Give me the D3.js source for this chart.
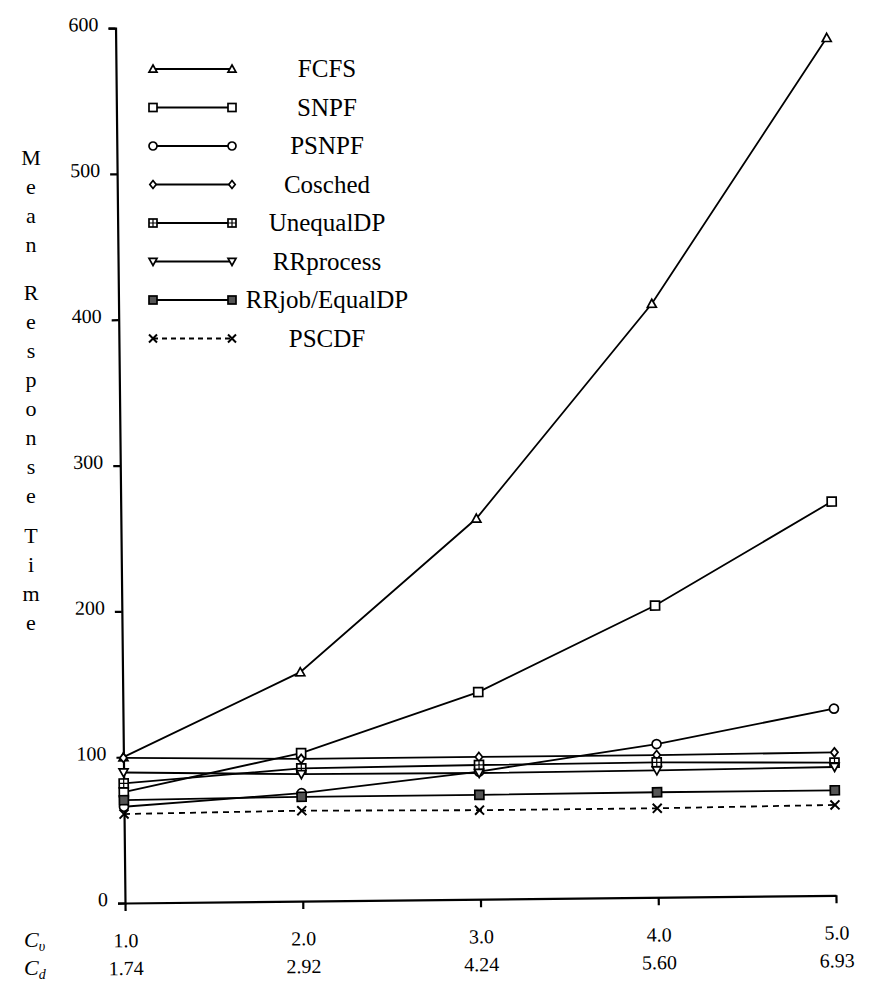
<!DOCTYPE html>
<html><head><meta charset="utf-8">
<script src="https://cdn.jsdelivr.net/npm/d3@7"></script>
<style>
body{margin:0;background:#fff}
svg{display:block}
text{font-family:"Liberation Serif","Times New Roman",serif;fill:#000}
</style>
</head><body>
<script>
// ---- data ----
const cvValues = [1.0, 2.0, 3.0, 4.0, 5.0];
const cdLabels = ["1.74", "2.92", "4.24", "5.60", "6.93"];
const yTicks = [0, 100, 200, 300, 400, 500, 600];
const seriesNames = ["FCFS", "SNPF", "PSNPF", "Cosched", "UnequalDP", "RRprocess", "RRjob/EqualDP", "PSCDF"];
const fcfs      = [100, 157, 261, 407, 588];
const snpf      = [76, 101.5, 142, 200, 270];
const psnpf     = [66, 74, 87.5, 105, 128];
const cosched   = [99.5, 97.5, 97.5, 97.5, 98];
const unequalDP = [82, 91, 92, 92.5, 91];
const rrprocess = [89.5, 87, 86.5, 87, 88];
const rrjob     = [70.5, 71.5, 71.5, 72, 72];
const pscdf     = [61, 62, 61, 61, 62];
const seriesMarkers = ["triUp", "square", "circle", "diamond", "squarePlus", "triDown", "filledSquare", "cross"];
const seriesValues = [fcfs, snpf, psnpf, cosched, unequalDP, rrprocess, rrjob, pscdf];
const yTitleWords = ["Mean", "Response", "Time"];

// ---- setup ----
const W = 869, H = 981;
const FONT = '"Liberation Serif","Times New Roman",serif';
const svg = d3.select("body").append("svg").attr("width", W).attr("height", H)
  .attr("font-family", FONT);

const x = d3.scaleLinear().domain([1, 5]).range([0, 711]);
const y = d3.scaleLinear().domain([0, 600]).range([0, -875]);

function drawMarker(g, type, cx, cy, s) {
  const h = s / 2;
  const m = g.append("g").attr("transform", `translate(${cx},${cy})`)
    .attr("fill", "#fff").attr("stroke", "#000").attr("stroke-width", 1.7);
  switch (type) {
    case "triUp":
      m.append("path").attr("d", `M0,${-h} L${h},${h * 0.8} L${-h},${h * 0.8} Z`); break;
    case "triDown":
      m.append("path").attr("d", `M0,${h} L${h},${-h * 0.8} L${-h},${-h * 0.8} Z`); break;
    case "square":
      m.append("rect").attr("x", -h).attr("y", -h).attr("width", s).attr("height", s); break;
    case "circle":
      m.append("circle").attr("r", h); break;
    case "diamond":
      m.append("path").attr("d", `M0,${-h} L${h * 0.8},0 L0,${h} L${-h * 0.8},0 Z`); break;
    case "squarePlus":
      m.append("rect").attr("x", -h).attr("y", -h).attr("width", s).attr("height", s);
      m.append("path").attr("d", `M${-h},0 H${h} M0,${-h} V${h}`).attr("stroke-width", 1.2); break;
    case "filledSquare":
      m.append("rect").attr("x", -h).attr("y", -h).attr("width", s).attr("height", s).attr("fill", "#555"); break;
    case "cross":
      m.append("path").attr("d", `M${-h},${-h} L${h},${h} M${-h},${h} L${h},${-h}`).attr("stroke-width", 2); break;
  }
}

// ---- plot group (slightly rotated like the scanned original) ----
const plot = svg.append("g").attr("transform", "translate(125,903) rotate(-0.62)");

// y axis
const yAxis = plot.append("g")
  .call(d3.axisLeft(y).tickValues(yTicks).tickSize(7).tickSizeOuter(7).tickPadding(10).tickFormat(d3.format("d")))
  .attr("font-family", FONT).attr("font-size", 20);
yAxis.selectAll("path,line").attr("stroke", "#000").attr("stroke-width", 2.2);
yAxis.selectAll("text").attr("dy", "0.12em");

// x axis
const xAxis = plot.append("g")
  .call(d3.axisBottom(x).tickValues(cvValues).tickSize(8).tickSizeOuter(0).tickPadding(22).tickFormat(d3.format(".1f")))
  .attr("font-family", FONT).attr("font-size", 20);
xAxis.selectAll("path,line").attr("stroke", "#000").attr("stroke-width", 2.2);
xAxis.selectAll(".tick").append("text")
  .attr("y", 72).attr("fill", "#000")
  .text((d, i) => cdLabels[i]);

// lines
const line = d3.line().x((d, i) => x(cvValues[i])).y(d => y(d));
seriesValues.forEach((vals, si) => {
  plot.append("path").datum(vals)
    .attr("d", line).attr("fill", "none").attr("stroke", "#000")
    .attr("stroke-width", 1.8)
    .attr("stroke-dasharray", seriesMarkers[si] === "cross" ? "6,5" : null);
});
seriesValues.forEach((vals, si) => {
  vals.forEach((v, i) => drawMarker(plot, seriesMarkers[si], x(cvValues[i]), y(v), 9));
});

// ---- legend ----
const legend = svg.append("g");
const legTop = 69, legStep = 38.5;
seriesNames.forEach((name, i) => {
  const yy = legTop + i * legStep;
  legend.append("line").attr("x1", 153).attr("x2", 232).attr("y1", yy).attr("y2", yy)
    .attr("stroke", "#000").attr("stroke-width", 1.8)
    .attr("stroke-dasharray", seriesMarkers[i] === "cross" ? "5,4" : null);
  drawMarker(legend, seriesMarkers[i], 153, yy, 8);
  drawMarker(legend, seriesMarkers[i], 232, yy, 8);
  legend.append("text").attr("x", 327).attr("y", yy + 8)
    .attr("text-anchor", "middle").attr("font-size", 25).text(name);
});

// ---- y-axis title (vertical letters) ----
const wordStarts = [158, 293, 536];
const step = 29;
yTitleWords.forEach((w, wi) => {
  w.split("").forEach((ch, ci) => {
    svg.append("text").attr("x", 31).attr("y", wordStarts[wi] + ci * step + 7)
      .attr("text-anchor", "middle").attr("font-size", 22).text(ch);
  });
});

// ---- Cv / Cd labels ----
const cvLab = svg.append("text").attr("x", 24).attr("y", 947).attr("font-size", 22).attr("font-style", "italic");
cvLab.append("tspan").text("C");
cvLab.append("tspan").attr("font-size", 14).attr("dy", 4).text("υ");
const cdLab = svg.append("text").attr("x", 24).attr("y", 975).attr("font-size", 22).attr("font-style", "italic");
cdLab.append("tspan").text("C");
cdLab.append("tspan").attr("font-size", 14).attr("dy", 4).text("d");
</script>
</body></html>
